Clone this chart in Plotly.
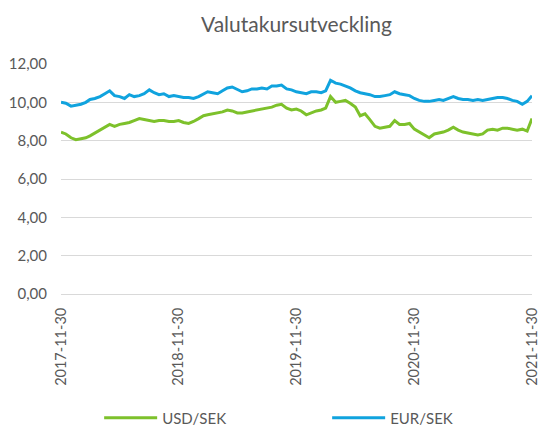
import plotly.graph_objects as go
import pandas as pd

# Semi-monthly observation dates: 2017-11-30, then the 15th and month-end of each month to 2021-11-30
dates = ["2017-11-30"]
for m in pd.period_range("2017-12", "2021-11", freq="M"):
    dates.append(f"{m.year}-{m.month:02d}-15")
    dates.append(m.end_time.strftime("%Y-%m-%d"))

eur_sek = [
    10.00,
    9.95, 9.80, 9.85, 9.90, 10.00, 10.15, 10.20, 10.30, 10.45, 10.60, 10.35, 10.30,
    10.20, 10.40, 10.30, 10.35, 10.45, 10.65, 10.50, 10.40, 10.45, 10.30, 10.35, 10.30,
    10.25, 10.25, 10.20, 10.30, 10.45, 10.55, 10.50, 10.45, 10.60, 10.75, 10.80, 10.65,
    10.55, 10.60, 10.70, 10.70, 10.75, 10.70, 10.85, 10.85, 10.90, 10.70, 10.65, 10.55,
    10.50, 10.45, 10.55, 10.55, 10.50, 10.60, 11.15, 11.00, 10.95, 10.85, 10.75, 10.60,
    10.50, 10.45, 10.40, 10.30, 10.30, 10.35, 10.40, 10.55, 10.45, 10.40, 10.35, 10.20,
    10.10, 10.05, 10.05, 10.10, 10.15, 10.10, 10.20, 10.30, 10.20, 10.15, 10.15, 10.10,
    10.15, 10.10, 10.15, 10.20, 10.25, 10.25, 10.20, 10.10, 10.05, 9.90, 10.05, 10.35,
]

usd_sek = [
    8.45,
    8.35, 8.15, 8.05, 8.10, 8.15, 8.25, 8.40, 8.55, 8.70, 8.85, 8.75, 8.85,
    8.90, 8.95, 9.05, 9.15, 9.10, 9.05, 9.00, 9.05, 9.05, 9.00, 9.00, 9.05,
    8.95, 8.90, 9.00, 9.15, 9.30, 9.35, 9.40, 9.45, 9.50, 9.60, 9.55, 9.45,
    9.45, 9.50, 9.55, 9.60, 9.65, 9.70, 9.75, 9.85, 9.90, 9.70, 9.60, 9.65,
    9.55, 9.35, 9.45, 9.55, 9.60, 9.70, 10.30, 10.00, 10.05, 10.10, 9.95, 9.75,
    9.30, 9.40, 9.10, 8.75, 8.65, 8.70, 8.75, 9.05, 8.85, 8.85, 8.90, 8.60,
    8.45, 8.30, 8.15, 8.35, 8.40, 8.45, 8.55, 8.70, 8.55, 8.45, 8.40, 8.35,
    8.30, 8.35, 8.55, 8.60, 8.55, 8.65, 8.65, 8.60, 8.55, 8.60, 8.50, 9.15,
]

tick_dates = ["2017-11-30", "2018-11-30", "2019-11-30", "2020-11-30", "2021-11-30"]
y_ticks = [0, 2, 4, 6, 8, 10, 12]

font_family = "Lato, 'Open Sans', sans-serif"
grey = "#595959"

fig = go.Figure()
fig.add_trace(go.Scatter(x=dates, y=usd_sek, mode="lines", name="USD/SEK",
                         line=dict(color="#7DC12B", width=3)))
fig.add_trace(go.Scatter(x=dates, y=eur_sek, mode="lines", name="EUR/SEK",
                         line=dict(color="#10A3DE", width=3)))

fig.update_layout(
    width=542, height=429,
    margin=dict(l=61, r=10, t=64, b=135, autoexpand=False),
    paper_bgcolor="white", plot_bgcolor="white",
    separators=", ",
    font=dict(family=font_family, color=grey, size=15),
    title=dict(text="Valutakursutveckling", x=0.5, xref="paper", xanchor="center",
               y=1 - 25 / 429, yanchor="middle",
               font=dict(size=21, color=grey, family=font_family)),
    showlegend=True,
    legend=dict(orientation="h", x=0.081, xanchor="left", y=-0.539, yanchor="middle",
                font=dict(size=15, color=grey), entrywidth=160, entrywidthmode="pixels",
                itemwidth=53, bgcolor="rgba(0,0,0,0)"),
)
fig.update_yaxes(range=[0, 12], tickvals=y_ticks, tickformat=".2f", showgrid=True,
                 gridcolor="#D9D9D9", gridwidth=1, zeroline=False, showline=False,
                 ticks="", ticklabelstandoff=13, tickfont=dict(size=15, color=grey))
fig.update_xaxes(type="date", range=["2017-11-30", "2021-11-30"], tickvals=tick_dates,
                 ticktext=tick_dates, tickangle=-90, showgrid=False, zeroline=False,
                 showline=True, linecolor="#D9D9D9", linewidth=1, ticks="",
                 ticklabelstandoff=7, tickfont=dict(size=14.5, color=grey))

fig.write_html("out.html", config={"displayModeBar": False},
               post_script="document.body.style.margin='0';document.body.style.overflow='hidden';")
